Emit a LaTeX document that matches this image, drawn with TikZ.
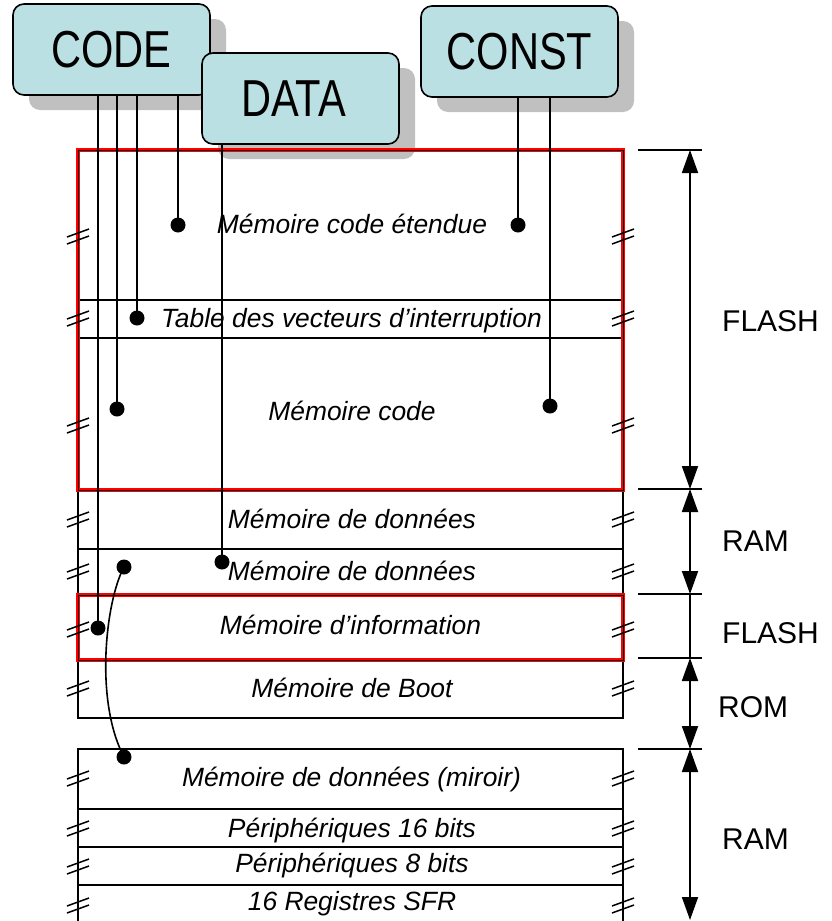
\documentclass[tikz,border=0pt]{standalone}
\usepackage{fontspec}
\setmainfont{Liberation Sans}
\usetikzlibrary{shadows,arrows.meta}
\definecolor{boxfill}{RGB}{187,224,227}
\definecolor{shadowgray}{RGB}{192,192,192}
\definecolor{memred}{RGB}{255,0,0}
\begin{document}
\begin{tikzpicture}[x=1pt,y=-1pt,
  tag/.style={draw, line width=1.6pt, fill=boxfill, rounded corners=11pt, inner sep=0pt,
    minimum width=197pt, minimum height=91pt,
    drop shadow={shadow xshift=16pt, shadow yshift=-15pt, fill=shadowgray, opacity=1},
    font=\fontsize{52}{52}\selectfont},
  conn/.style={line width=2.2pt},
  dotnode/.style={circle, fill=black, inner sep=0pt, minimum size=15pt},
  mem/.style={line width=1.8pt},
  redframe/.style={draw=memred, line width=3.5pt},
  thinblack/.style={line width=0.9pt},
  lbl/.style={font=\fontsize{26.4}{28}\selectfont\itshape, inner sep=0pt, anchor=base},
  side/.style={font=\fontsize{30}{32}\selectfont, inner sep=0pt, anchor=base west},
  brk/.style={line width=1.5pt},
  dim/.style={line width=1.5pt},
  arr/.style={line width=1.8pt, {Triangle[length=23pt,width=16pt]}-{Triangle[length=23pt,width=16pt]}}
]
\useasboundingbox (0,0) rectangle (832,921);

% tag boxes
\node[tag] (code) at (111.5,49.5) {\scalebox{0.8}[1]{CODE}};
\node[tag] (data) at (300.5,98.5) {\scalebox{0.8}[1]{DATA}\hspace*{14pt}};
\node[tag] (const) at (519.5,51.5) {\scalebox{0.8}[1]{CONST}};

% memory map frame
\draw[mem] (78,150) -- (78,718) -- (623,718) -- (623,150) -- cycle;
\foreach \yy in {300,338,490,549,595,660} \draw[mem] (78,\yy) -- (623,\yy);
\draw[mem] (78,921) -- (78,749) -- (623,749) -- (623,921);
\foreach \yy in {809,847,885} \draw[mem] (78,\yy) -- (623,\yy);

% red frames (FLASH)
\draw[redframe] (78,150) rectangle (623,490);
\draw[redframe] (78,595) rectangle (623,660);
\draw[thinblack] (78,150) rectangle (623,490);
\draw[thinblack] (78,595) rectangle (623,660);

% break marks
\foreach \yy in {236,318,425,519,571,629,688,778,828,866,905}{
  \foreach \xx in {78,623}{
    \draw[brk] (\xx-11,\yy+1) -- (\xx+11,\yy-7);
    \draw[brk] (\xx-11,\yy+8) -- (\xx+11,\yy);
  }
}

% labels
\node[lbl] (t1) at (352,233.5) {Mémoire code étendue};
\node[lbl] (t2) at (351.5,327.5) {Table des vecteurs d’interruption};
\node[lbl] (t3) at (352,420.5) {Mémoire code};
\node[lbl] (t4) at (352,528.5) {Mémoire de données};
\node[lbl] (t5) at (352,580.5) {Mémoire de données};
\node[lbl] (t6) at (350.5,634.5) {Mémoire d’information};
\node[lbl] (t7) at (352,697.5) {Mémoire de Boot};
\node[lbl] (t8) at (351.5,786.5) {Mémoire de données (miroir)};
\node[lbl] (t9) at (352,837.5) {Périphériques 16 bits};
\node[lbl] (t10) at (352,872.5) {Périphériques 8 bits};
\node[lbl] (t11) at (352,910.5) {16 Registres SFR};

% connector end points
\coordinate (p1) at (178,225);
\coordinate (p2) at (137,318);
\coordinate (p3) at (117,409);
\coordinate (p4) at (98,628);
\coordinate (q1) at (222,562);
\coordinate (r1) at (518,225);
\coordinate (r2) at (550,406);
\coordinate (m1) at (124,567);
\coordinate (m2) at (124,757);

\draw[conn] (code.south -| p1) -- (p1);
\draw[conn] (code.south -| p2) -- (p2);
\draw[conn] (code.south -| p3) -- (p3);
\draw[conn] (code.south -| p4) -- (p4);
\draw[conn] (data.south -| q1) -- (q1);
\draw[conn] (const.south -| r1) -- (r1);
\draw[conn] (const.south -| r2) -- (r2);
\draw[line width=1.6pt] (m1) .. controls (106,600) and (94,700) .. (m2);

\foreach \pp in {p1,p2,p3,p4,q1,r1,r2,m1,m2} \node[dotnode] (d\pp) at (\pp) {};

% dimension ticks and arrows
\coordinate (k1) at (690,150);
\coordinate (k2) at (690,489);
\coordinate (k3) at (690,594);
\coordinate (k4) at (690,658);
\coordinate (k5) at (690,749);
\coordinate (k6) at (690,920);
\foreach \kk in {k1,k2,k3,k4,k5} \draw[dim] ([xshift=-52pt]\kk) -- ([xshift=12pt]\kk);
\draw[arr] (k1) -- (k2);
\draw[arr] (k2) -- (k3);
\draw[dim] (k3) -- (k4);
\draw[arr] (k4) -- (k5);
\draw[arr] (k5) -- (k6);

\node[side] (s1) at (722,331) {FLASH};
\node[side] (s2) at (722,551) {RAM};
\node[side] (s3) at (722,643) {FLASH};
\node[side] (s4) at (718,717) {ROM};
\node[side] (s5) at (722,849) {RAM};
\end{tikzpicture}
\end{document}
